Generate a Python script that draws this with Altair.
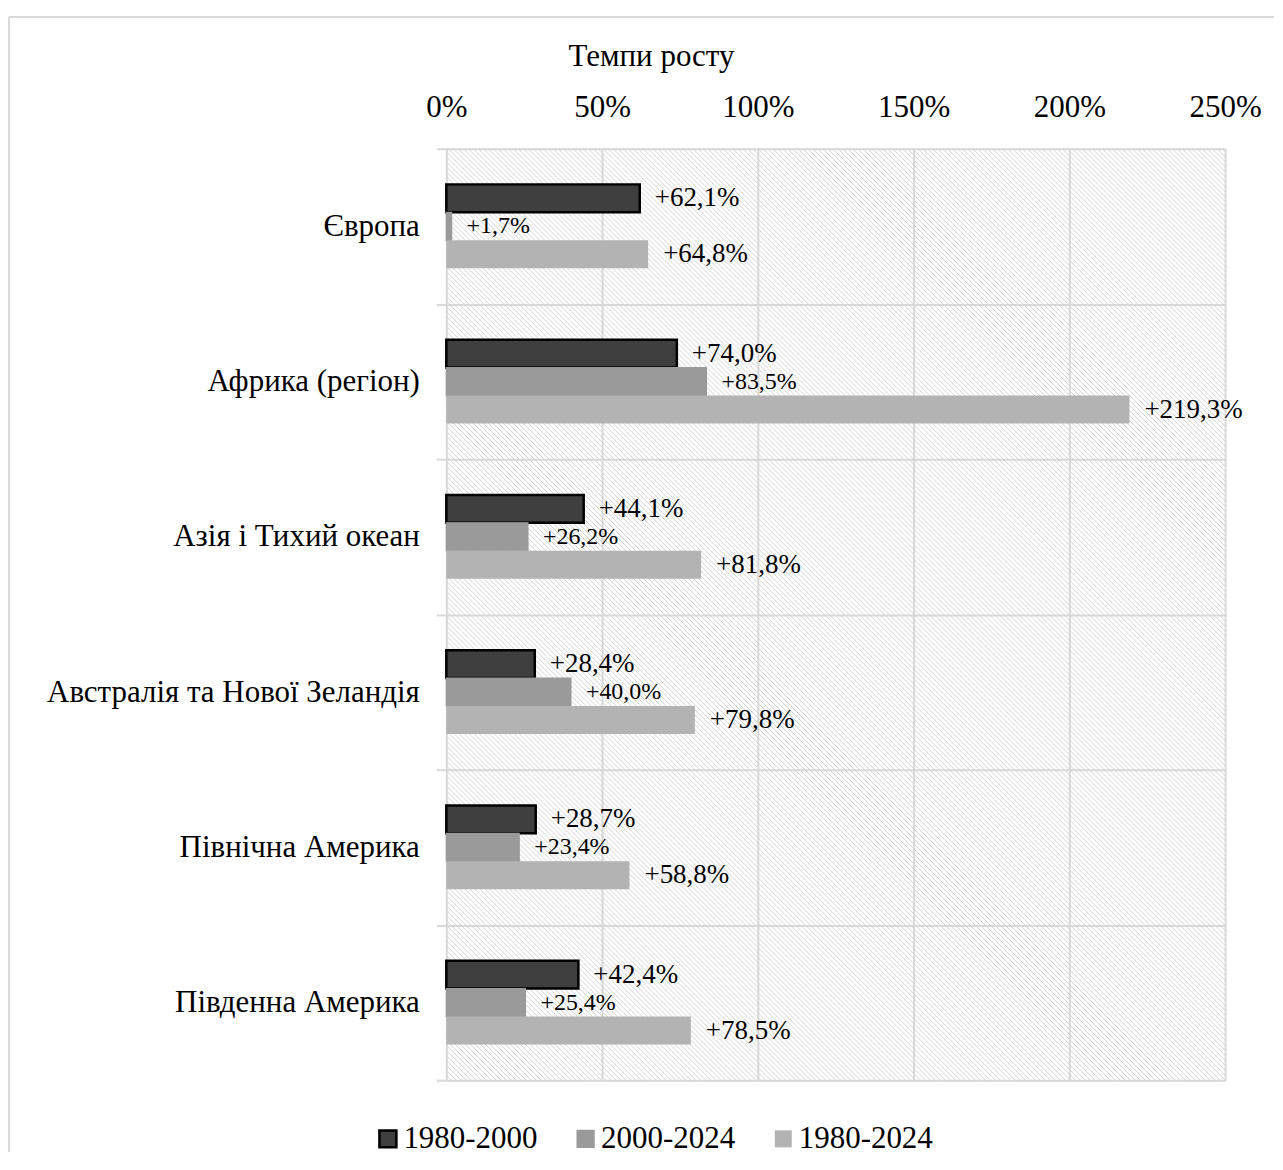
import altair as alt
import pandas as pd

regions = ["Європа", "Африка (регіон)", "Азія і Тихий океан",
           "Австралія та Нової Зеландія", "Північна Америка", "Південна Америка"]
series = ["1980-2000", "2000-2024", "1980-2024"]
v_1980_2000 = [62.1, 74.0, 44.1, 28.4, 28.7, 42.4]
v_2000_2024 = [1.7, 83.5, 26.2, 40.0, 23.4, 25.4]
v_1980_2024 = [64.8, 219.3, 81.8, 79.8, 58.8, 78.5]
x_ticks = [0, 50, 100, 150, 200, 250]

rows = []
for s, vals in zip(series, [v_1980_2000, v_2000_2024, v_1980_2024]):
    for r, v in zip(regions, vals):
        rows.append({"region": r, "series": s, "value": v,
                     "label": ("+%.1f%%" % v).replace(".", ",")})
df = pd.DataFrame(rows)

FONT = "Liberation Serif"
FS = 31
W, H = 780, 933
GRID = "#d9d9d9"

y_scale = alt.Scale(domain=regions, paddingInner=0, paddingOuter=0)
yoff_scale = alt.Scale(domain=series, paddingInner=0, paddingOuter=0, range=[35.75, 119.75])

y_enc = alt.Y("region:N", sort=regions, scale=y_scale,
              axis=alt.Axis(title=None, domain=False, tickBand="extent",
                            ticks=True, tickSize=10, tickColor=GRID, tickWidth=2,
                            grid=True, gridColor=GRID, gridWidth=2,
                            labelFont=FONT, labelFontSize=FS, labelColor="#000000",
                            labelPadding=17, labelLimit=800,
                            labelExpr="(datum.value == 'Азія і Тихий океан' || datum.value == 'Австралія та Нової Зеландія') ? datum.value + '\u2005\u2005' : datum.value"))
yoff = alt.YOffset("series:N", sort=series, scale=yoff_scale)
x_enc = alt.X("value:Q", scale=alt.Scale(domain=[0, 250], nice=False),
              axis=alt.Axis(orient="top", values=x_ticks, labelExpr="datum.value + '%'",
                            domain=False, ticks=False, tickSize=0, labelFlush=False,
                            grid=True, gridColor=GRID, gridWidth=2,
                            labelFont=FONT, labelFontSize=FS, labelColor="#000000",
                            labelPadding=25,
                            title="Темпи росту", titleFont=FONT, titleFontSize=FS,
                            titleFontWeight="normal", titleColor="#000000",
                            titleX=205, titleY=-92, titleAlign="center",
                            titleBaseline="middle", titleAngle=0))

hatch = alt.Chart(alt.sequence(0, 345, as_="i")).transform_calculate(
    hx="datum.i * 5 - 933", hx2="datum.i * 5"
).mark_rule(clip=True, color="#d4d4d4", strokeWidth=1).encode(
    x=alt.X("hx:Q", scale=None, axis=None),
    x2="hx2:Q",
    y=alt.value(0),
    y2=alt.value(H),
)

bars = alt.Chart(df).mark_bar().encode(
    x=x_enc,
    y=y_enc,
    yOffset=yoff,
    fill=alt.Fill("series:N", sort=series,
                  scale=alt.Scale(domain=series, range=["#3f3f3f", "#9a9a9a", "#b3b3b3"]),
                  legend=alt.Legend(title=None, orient="none", legendX=-74, legendY=976,
                                    direction="horizontal", symbolType="square",
                                    symbolSize=289, labelFont=FONT, labelFontSize=FS,
                                    labelColor="#000000", columnPadding=32, labelOffset=0)),
    stroke=alt.Stroke("series:N", sort=series,
                      scale=alt.Scale(domain=series, range=["#000000", "#9a9a9a", "#b3b3b3"])),
    strokeWidth=alt.StrokeWidth("series:N", sort=series,
                                scale=alt.Scale(domain=series, range=[2.5, 0, 0])),
)

label_sizes = {"1980-2000": 27, "2000-2024": 24, "1980-2024": 27}
label_layers = []
for s in series:
    label_layers.append(
        alt.Chart(df).transform_filter(alt.datum.series == s).mark_text(
            align="left", baseline="middle", dx=15, font=FONT,
            fontSize=label_sizes[s], color="#000000").encode(
            x=alt.X("value:Q"),
            y=alt.Y("region:N", sort=regions, scale=y_scale),
            yOffset=alt.YOffset("series:N", sort=series, scale=yoff_scale),
            text="label:N",
        )
    )

frame_top = alt.Chart(alt.Data(values=[{"a": 1}])).mark_rule(color=GRID, strokeWidth=2).encode(
    x=alt.value(-438), x2=alt.value(829), y=alt.value(-132))
frame_left = alt.Chart(alt.Data(values=[{"a": 1}])).mark_rule(color=GRID, strokeWidth=2).encode(
    x=alt.value(-438), y=alt.value(-132), y2=alt.value(1005))

chart = alt.layer(hatch, bars, *label_layers, frame_top, frame_left).properties(
    width=W, height=H,
    padding={"left": 0, "top": 7, "right": 0, "bottom": 0},
).configure_view(stroke=None).configure(font=FONT)

chart.save("out.html", embed_options={"renderer": "svg", "actions": False})
